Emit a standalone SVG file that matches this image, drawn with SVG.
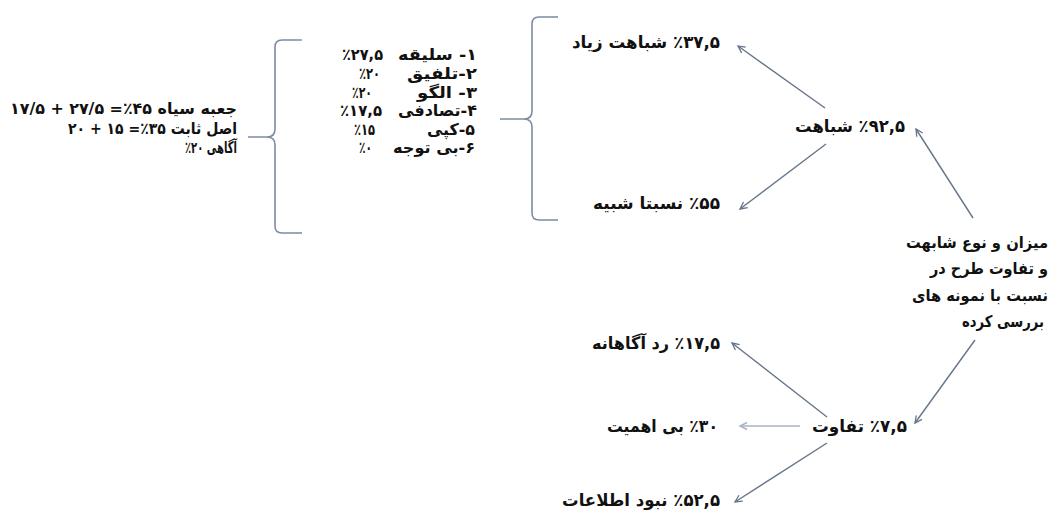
<svg xmlns="http://www.w3.org/2000/svg" width="1061" height="513" viewBox="0 0 1061 513">
<style>
text{font-family:"DejaVu Sans","Noto Sans",sans-serif;font-weight:bold;font-size:17px;fill:#111;text-anchor:end}
.sm{font-size:16px}
.ctr{font-size:16px}
.br{fill:none;stroke:#7b8ca4;stroke-width:1.6}
.ar{fill:none;stroke:#66758a;stroke-width:1.4;marker-end:url(#ah)}
.arl{fill:none;stroke:#a8b4c4;stroke-width:1.6;marker-end:url(#ahl)}
</style>
<defs>
<marker id="ah" markerUnits="userSpaceOnUse" markerWidth="12" markerHeight="12" viewBox="-10 -6 12 12" refX="0" refY="0" orient="auto"><path d="M-7,-3.5 L0,0 L-7,3.5" fill="none" stroke="#66758a" stroke-width="1.3"/></marker>
<marker id="ahl" markerUnits="userSpaceOnUse" markerWidth="12" markerHeight="12" viewBox="-10 -6 12 12" refX="0" refY="0" orient="auto"><path d="M-7,-3.5 L0,0 L-7,3.5" fill="none" stroke="#a8b4c4" stroke-width="1.4"/></marker>
</defs>
<g id="summary">
<text class="sm" x="237" y="114" textLength="227" lengthAdjust="spacingAndGlyphs">&#x200F;جعبه سیاه ۴۵٪= ۲۷/۵ + ۱۷/۵</text>
<text class="sm" x="237" y="134" textLength="169" lengthAdjust="spacingAndGlyphs">&#x200F;اصل ثابت ۳۵٪= ۱۵ + ۲۰</text>
<text class="sm" x="237" y="153" textLength="52" lengthAdjust="spacingAndGlyphs">&#x200F;آگاهی ۲۰٪&#x200F;</text>
</g>
<g id="bracket1"><path class="br" d="M302,40 L282,40 Q275,40 275,47 L275,129 Q275,137 267,137 L248,137 M267,137 Q275,137 275,145 L275,226 Q275,233 282,233 L302,233"/></g>
<g id="list">
<text class="sm" x="477" y="60" textLength="79" lengthAdjust="spacingAndGlyphs">&#x200F;۱- سلیقه</text>
<text class="sm" x="383" y="60" textLength="41" lengthAdjust="spacingAndGlyphs">٪۲۷,۵</text>
<text class="sm" x="477" y="79" textLength="70" lengthAdjust="spacingAndGlyphs">&#x200F;۲-تلفیق</text>
<text class="sm" x="380" y="79" textLength="21" lengthAdjust="spacingAndGlyphs">٪۲۰</text>
<text class="sm" x="477" y="98" textLength="60" lengthAdjust="spacingAndGlyphs">&#x200F;۳- الگو</text>
<text class="sm" x="372" y="98" textLength="20" lengthAdjust="spacingAndGlyphs">٪۲۰</text>
<text class="sm" x="477" y="116" textLength="79" lengthAdjust="spacingAndGlyphs">&#x200F;۴-تصادفی</text>
<text class="sm" x="382" y="116" textLength="42" lengthAdjust="spacingAndGlyphs">٪۱۷,۵</text>
<text class="sm" x="475" y="135" textLength="48" lengthAdjust="spacingAndGlyphs">&#x200F;۵-کپی</text>
<text class="sm" x="375" y="135" textLength="21" lengthAdjust="spacingAndGlyphs">٪۱۵</text>
<text class="sm" x="475" y="153" textLength="82" lengthAdjust="spacingAndGlyphs">&#x200F;۶-بی توجه</text>
<text class="sm" x="372" y="153" textLength="13" lengthAdjust="spacingAndGlyphs">٪۰</text>
</g>
<g id="bracket2"><path class="br" d="M558,17 L539,17 Q532,17 532,24 L532,111 Q532,119 524,119 L500,119 M524,119 Q532,119 532,127 L532,213 Q532,220 539,220 L558,220"/></g>
<g id="high-similarity"><text x="720" y="48" textLength="148" lengthAdjust="spacingAndGlyphs">&#x200F;٪۳۷,۵ شباهت زیاد</text></g>
<g id="similarity"><text x="905" y="132" textLength="110" lengthAdjust="spacingAndGlyphs">&#x200F;٪۹۲,۵ شباهت</text></g>
<g id="relatively-similar"><text x="720" y="209" textLength="127" lengthAdjust="spacingAndGlyphs">&#x200F;٪۵۵ نسبتا شبیه</text></g>
<g id="center">
<text class="ctr" x="1048" y="248" textLength="142" lengthAdjust="spacingAndGlyphs">میزان و نوع شابهت</text>
<text class="ctr" x="1048" y="274" textLength="118" lengthAdjust="spacingAndGlyphs">و تفاوت طرح در</text>
<text class="ctr" x="1048" y="301" textLength="136" lengthAdjust="spacingAndGlyphs">نسبت با نمونه های</text>
<text class="ctr" x="1044" y="327" textLength="82" lengthAdjust="spacingAndGlyphs">بررسی کرده</text>
</g>
<g id="conscious-rejection"><text x="720" y="349" textLength="128" lengthAdjust="spacingAndGlyphs">&#x200F;٪۱۷,۵ رد آگاهانه</text></g>
<g id="difference"><text x="907" y="432" textLength="95" lengthAdjust="spacingAndGlyphs">&#x200F;٪۷,۵ تفاوت</text></g>
<g id="unimportant"><text x="718" y="432" textLength="111" lengthAdjust="spacingAndGlyphs">&#x200F;٪۳۰ بی اهمیت</text></g>
<g id="no-information"><text x="720" y="506" textLength="158" lengthAdjust="spacingAndGlyphs">&#x200F;٪۵۲,۵ نبود اطلاعات</text></g>
<g id="connectors">
<line class="ar" x1="825" y1="108" x2="738" y2="46"/>
<line class="ar" x1="826" y1="144" x2="740" y2="209"/>
<line class="ar" x1="973" y1="218" x2="916" y2="129"/>
<line class="ar" x1="975" y1="340" x2="915" y2="423"/>
<line class="ar" x1="827" y1="417" x2="732" y2="343"/>
<line class="arl" x1="800" y1="426" x2="740" y2="426"/>
<line class="ar" x1="827" y1="443" x2="735" y2="502"/>
</g>
</svg>
